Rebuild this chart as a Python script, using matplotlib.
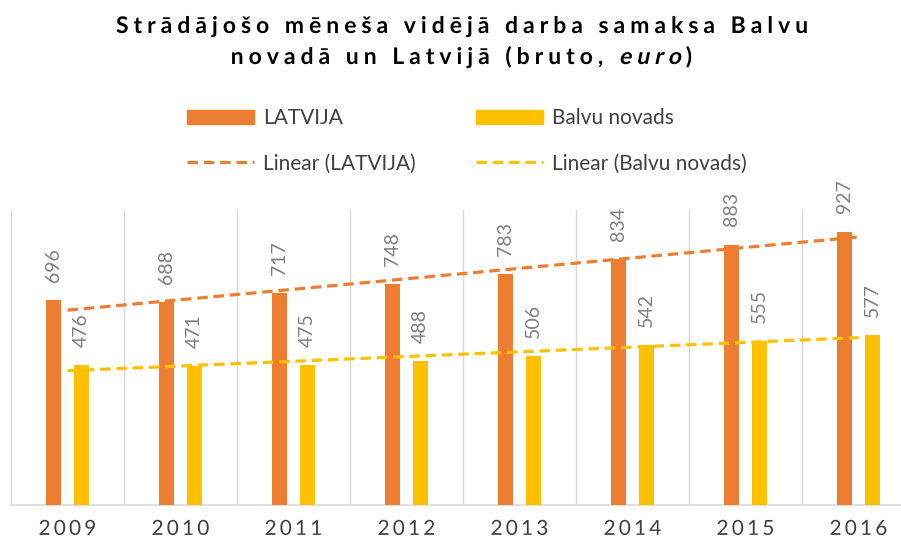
import numpy as np
import matplotlib
matplotlib.use('Agg')
import matplotlib.pyplot as plt
from matplotlib.patheffects import AbstractPathEffect
from matplotlib.textpath import text_to_path
from matplotlib.path import Path
from matplotlib.transforms import IdentityTransform
from matplotlib.patches import Patch

# ---------------- data ----------------
years = ['2009', '2010', '2011', '2012', '2013', '2014', '2015', '2016']
latvija = [696, 688, 717, 748, 783, 834, 883, 927]
balvu = [476, 471, 475, 488, 506, 542, 555, 577]
series_names = ['LATVIJA', 'Balvu novads']
title_line1 = 'Strādājošo mēneša vidējā darba samaksa Balvu'
title_line2 = 'novadā un Latvijā (bruto, euro)'
italic_word = 'euro'

# ---------------- style ----------------
ORANGE = '#ED7D31'
YELLOW = '#FFC000'
GRID = '#d9d9d9'
FONT = ['Lato', 'DejaVu Sans']
plt.rcParams['font.family'] = FONT


class Spaced(AbstractPathEffect):
    """Draw a text with extra letter spacing (px) and optional synthetic oblique."""

    def __init__(self, text_obj, spacing_px, oblique=None):
        super().__init__()
        self.t = text_obj
        self.spacing = spacing_px
        self.oblique = oblique or []

    def draw_path(self, renderer, gc, tpath, affine, rgbFace=None):
        s = self.t.get_text()
        prop = self.t.get_fontproperties()
        try:
            font = text_to_path._get_font(prop)
            glyph_info, glyph_map, _ = text_to_path.get_glyphs_with_font(font, s)
            counts = [len(glyph_map[g[0]][0]) for g in glyph_info]
        except Exception:
            counts = []
        verts = np.array(tpath.vertices, dtype=float).copy()
        if len(counts) != len(s) or sum(counts) != len(verts) or tpath.codes is None:
            renderer.draw_path(gc, tpath, affine, rgbFace)
            return
        n = len(s)
        offs = np.zeros(len(verts))
        start = 0
        for i, c in enumerate(counts):
            blk = slice(start, start + c)
            for a, b in self.oblique:
                if a <= i < b:
                    verts[blk, 0] += np.tan(np.radians(12)) * verts[blk, 1]
            offs[blk] = i * self.spacing
            start += c
        ha = self.t.get_horizontalalignment()
        total = (n - 1) * self.spacing
        shift = {'center': -total / 2, 'right': -total}.get(ha, 0.0)
        disp = affine.transform(verts)
        disp[:, 0] += offs + shift
        renderer.draw_path(gc, Path(disp, tpath.codes), IdentityTransform(), rgbFace)


W, H = 901, 541
fig = plt.figure(figsize=(W / 100, H / 100), dpi=100)
fig.patch.set_facecolor('white')
ax = fig.add_axes([11 / W, 36 / H, 904 / W, 295 / H])

x = np.arange(len(years))
bw, off = 0.135, 0.124
b1 = ax.bar(x - off, latvija, bw, color=ORANGE, zorder=3, label=series_names[0])
b2 = ax.bar(x + off, balvu, bw, color=YELLOW, zorder=3, label=series_names[1])

lines = []
for vals, col, name in ((latvija, ORANGE, series_names[0]), (balvu, YELLOW, series_names[1])):
    k, c = np.polyfit(x, vals, 1)
    ln, = ax.plot(x, k * x + c, color=col, lw=2.3, dashes=(3.3, 1.8),
                  dash_capstyle='butt', zorder=4, label=f'Linear ({name})')
    lines.append(ln)

for cont, vals in ((b1, latvija), (b2, balvu)):
    ax.bar_label(cont, labels=[str(v) for v in vals], padding=13, rotation=90,
                 fontsize=14, color='#7f7f7f')

ax.set_xlim(-0.5, len(years) - 0.5)
ax.set_ylim(0, 1000)
for bnd in np.arange(-0.5, len(years), 1.0):
    ax.axvline(bnd, color=GRID, lw=1, zorder=1, clip_on=False)

for sp in ('top', 'left', 'right'):
    ax.spines[sp].set_visible(False)
ax.spines['bottom'].set_color(GRID)
ax.spines['bottom'].set_linewidth(1.2)
ax.set_yticks([])
ax.set_xticks(x)
ax.set_xticklabels(years)
ax.tick_params(axis='x', length=0, pad=10, labelsize=15, labelcolor='#404040')

# legend
handles = [Patch(color=ORANGE), lines[0], Patch(color=YELLOW), lines[1]]
labels = [series_names[0], f'Linear ({series_names[0]})',
          series_names[1], f'Linear ({series_names[1]})']
fig.legend(handles, labels, ncol=2, loc='center', bbox_to_anchor=(467 / W, 1 - 141 / H),
           frameon=False, fontsize=15, handlelength=3.2, handleheight=0.62,
           handletextpad=0.45, columnspacing=2.9, labelspacing=1.2, labelcolor='#404040')

# title
t1 = fig.text(461 / W, 1 - 33 / H, title_line1, ha='center', va='baseline',
              fontsize=16.5, fontweight='bold', color='black')
t2 = fig.text(461 / W, 1 - 64 / H, title_line2, ha='center', va='baseline',
              fontsize=16.5, fontweight='bold', color='black')

renderer = fig.canvas.get_renderer()
w1 = t1.get_window_extent(renderer).width
sp_title = (690 - w1) / (len(title_line1) - 1)
t1.set_path_effects([Spaced(t1, sp_title)])
i0 = title_line2.index(italic_word)
t2.set_path_effects([Spaced(t2, sp_title, oblique=[(i0, i0 + len(italic_word))])])

ticklabels = ax.get_xticklabels()
wt = ticklabels[0].get_window_extent(renderer).width
sp_tick = (58 - wt) / 3
for lab in ticklabels:
    lab.set_path_effects([Spaced(lab, sp_tick)])

fig.savefig('out.png', dpi=100)
